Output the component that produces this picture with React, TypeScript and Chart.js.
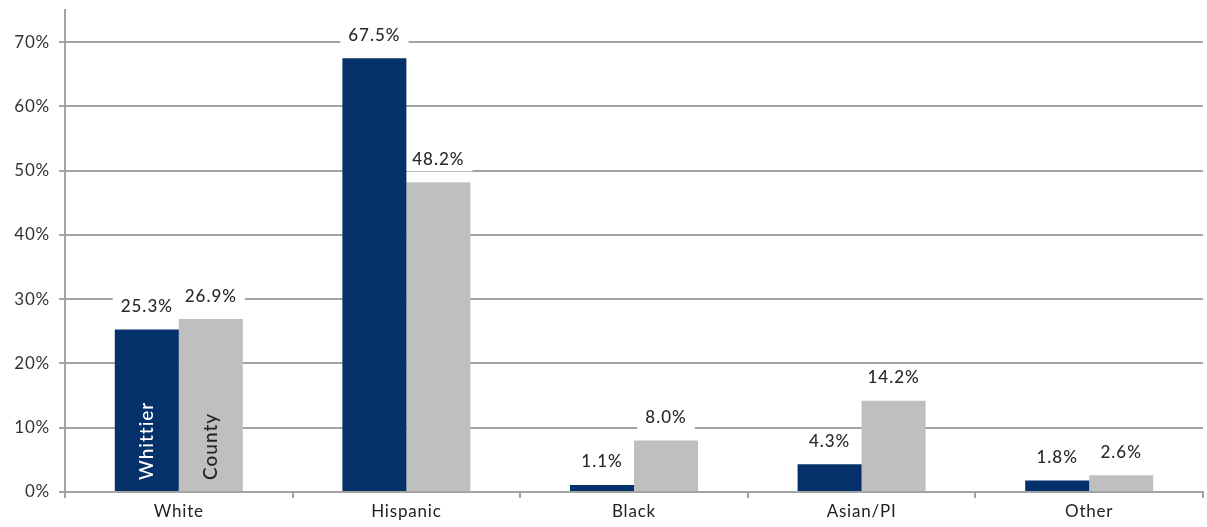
import React, { useEffect, useRef } from "react";
import { Chart, registerables } from "chart.js";

Chart.register(...registerables);

const categories = ["White", "Hispanic", "Black", "Asian/PI", "Other"];
const seriesNames = ["Whittier", "County"];
const whittier = [25.3, 67.5, 1.1, 4.3, 1.8];
const county = [26.9, 48.2, 8.0, 14.2, 2.6];
const yTicks = [0, 10, 20, 30, 40, 50, 60, 70];

const NAVY = "#05316a";
const GRAY = "#bfbfbf";
const GRID = "#a3a3a3";
const FONT = "Lato";
const LABEL_FONT = `500 17px ${FONT}`;

const spacingPlugin = {
  id: "spacing",
  beforeDraw(chart: any) {
    (chart.ctx as any).letterSpacing = "0.8px";
  },
};

function forEachLabel(chart: any, fn: (bar: any, text: string) => void) {
  chart.data.datasets.forEach((ds: any, di: number) => {
    const meta = chart.getDatasetMeta(di);
    meta.data.forEach((bar: any, i: number) => {
      fn(bar, ds.data[i].toFixed(1) + "%");
    });
  });
}

const labelPlugin = {
  id: "barLabels",
  beforeDatasetsDraw(chart: any) {
    const ctx = chart.ctx;
    ctx.save();
    ctx.font = LABEL_FONT;
    (ctx as any).letterSpacing = "1px";
    ctx.fillStyle = "#ffffff";
    forEachLabel(chart, (bar, text) => {
      const w = ctx.measureText(text).width;
      const cy = bar.y - 23;
      ctx.fillRect(bar.x - w / 2 - 8, cy - 12, w + 16, 24);
    });
    ctx.restore();
  },
  afterDatasetsDraw(chart: any) {
    const ctx = chart.ctx;
    ctx.save();
    ctx.font = LABEL_FONT;
    (ctx as any).letterSpacing = "1px";
    ctx.textAlign = "center";
    ctx.textBaseline = "middle";
    ctx.fillStyle = "#2a2a2a";
    forEachLabel(chart, (bar, text) => {
      ctx.fillText(text, bar.x, bar.y - 23);
    });
    const base = chart.scales.y.getPixelForValue(0);
    chart.data.datasets.forEach((ds: any, di: number) => {
      const bar = chart.getDatasetMeta(di).data[0];
      ctx.save();
      ctx.translate(bar.x, base - 12);
      ctx.rotate(-Math.PI / 2);
      ctx.textAlign = "left";
      ctx.textBaseline = "middle";
      ctx.font = `500 19px ${FONT}`;
      (ctx as any).letterSpacing = "1px";
      ctx.fillStyle = di === 0 ? "#ffffff" : "#222222";
      ctx.fillText(seriesNames[di], 0, 0);
      ctx.restore();
    });
    ctx.restore();
  },
};

export default function App() {
  const ref = useRef<HTMLCanvasElement>(null);
  useEffect(() => {
    if (!ref.current) return;
    const chart = new Chart(ref.current, {
      type: "bar",
      data: {
        labels: categories,
        datasets: [
          { label: seriesNames[0], data: whittier, backgroundColor: NAVY, borderWidth: 0 },
          { label: seriesNames[1], data: county, backgroundColor: GRAY, borderWidth: 0 },
        ],
      },
      options: {
        animation: false,
        responsive: false,
        layout: { padding: { left: 0, top: 10, right: 4, bottom: 0 } },
        datasets: { bar: { barPercentage: 1, categoryPercentage: 0.5625 } },
        plugins: { legend: { display: false }, tooltip: { enabled: false } },
        scales: {
          x: {
            offset: true,
            grid: {
              offset: true,
              drawOnChartArea: false,
              drawTicks: true,
              tickLength: 6,
              color: GRID,
              lineWidth: 2,
            },
            border: { display: true, color: GRID, width: 2 },
            ticks: {
              color: "#222222",
              font: { family: FONT, size: 17 },
              padding: 3,
              maxRotation: 0,
            },
            afterFit: (s: any) => {
              s.height = 35;
              s.paddingLeft = 0;
              s.paddingRight = 0;
            },
          },
          y: {
            min: 0,
            max: 75,
            afterBuildTicks: (s: any) => {
              s.ticks = yTicks.map((v) => ({ value: v }));
            },
            grid: { color: GRID, lineWidth: 2, tickLength: 6 },
            border: { display: true, color: GRID, width: 2 },
            ticks: {
              color: "#333333",
              font: { family: FONT, size: 17 },
              padding: 9,
              callback: (v: any) => v + "%",
            },
            afterFit: (s: any) => {
              s.width = 65;
              s.paddingTop = 0;
              s.paddingBottom = 0;
            },
          },
        },
      },
      plugins: [spacingPlugin, labelPlugin],
    });
    return () => chart.destroy();
  }, []);
  return (
    <div style={{ position: "absolute", left: 0, top: 0, width: 1207, height: 527 }}>
      <canvas ref={ref} width={1207} height={527} style={{ display: "block" }} />
    </div>
  );
}
